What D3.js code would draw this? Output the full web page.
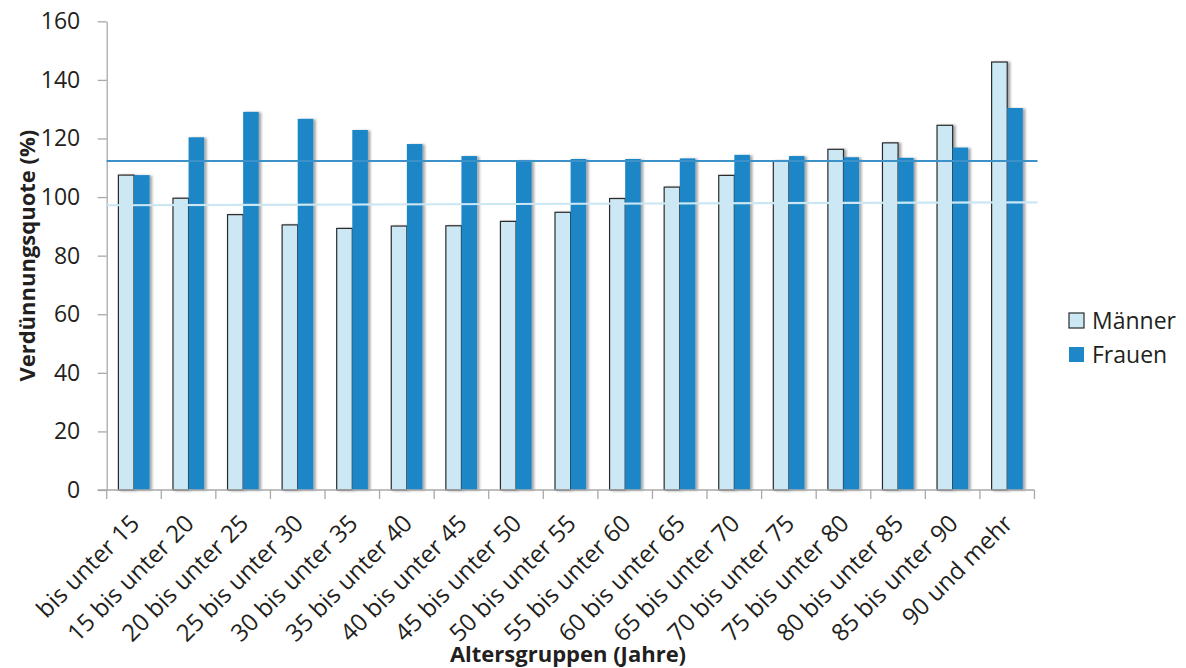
<!DOCTYPE html>
<html>
<head>
<meta charset="utf-8">
<script src="https://cdn.jsdelivr.net/npm/d3@7"></script>
<style>
  html, body { margin: 0; padding: 0; background: #fff; }
  svg { display: block; font-family: "Open Sans", sans-serif; }
</style>
</head>
<body>
<svg id="chart" width="1186" height="668"></svg>
<script>
// ---- data ----
const categories = ["bis unter 15", "15 bis unter 20", "20 bis unter 25", "25 bis unter 30",
  "30 bis unter 35", "35 bis unter 40", "40 bis unter 45", "45 bis unter 50", "50 bis unter 55",
  "55 bis unter 60", "60 bis unter 65", "65 bis unter 70", "70 bis unter 75", "75 bis unter 80",
  "80 bis unter 85", "85 bis unter 90", "90 und mehr"];
const maenner = [107.5, 99.6, 94.0, 90.5, 89.3, 90.1, 90.2, 91.7, 94.8, 99.5, 103.4, 107.4, 112.4, 116.3, 118.5, 124.5, 146.1];
const frauen  = [107.5, 120.4, 129.1, 126.7, 122.9, 118.1, 114.0, 112.5, 113.0, 113.0, 113.2, 114.4, 114.0, 113.6, 113.4, 116.9, 130.4];
const maennerLine = [97.2, 98.2];   // start / end value of reference line
const frauenLine  = [112.3, 112.3];
const yTicks = [0, 20, 40, 60, 80, 100, 120, 140, 160];
const seriesNames = ["Männer", "Frauen"];
const yTitle = "Verdünnungsquote (%)";
const xTitle = "Altersgruppen (Jahre)";

// ---- styles ----
const colM = "#cce8f4", colMStroke = "#2b2b2b";
const colF = "#1f86c7";
const colFLine = "#3d91c9", colMLine = "#cbe7f3";
const axisCol = "#a9a9a9", textCol = "#231f20";

const svg = d3.select("#chart");
const pLeft = 106.7, pRight = 1034.5, pTop = 21.3, pBottom = 490;

const x = d3.scaleBand().domain(categories).range([pLeft, pRight]).paddingInner(0).paddingOuter(0);
const barW = 15.6;
const xs = d3.scaleBand().domain(seriesNames).range([0, barW * 2]);
const y = d3.scaleLinear().domain([0, 160]).range([pBottom, pTop]);

const defs = svg.append("defs");
const f = defs.append("filter").attr("id", "shadow").attr("x", "-20%").attr("y", "-5%").attr("width", "160%").attr("height", "110%");
f.append("feDropShadow").attr("dx", 2.5).attr("dy", 0.5).attr("stdDeviation", 1.2)
  .attr("flood-color", "#000").attr("flood-opacity", 0.35);

// y axis
const yAxis = svg.append("g").attr("transform", `translate(${pLeft},0)`)
  .call(d3.axisLeft(y).tickValues(yTicks).tickSize(9).tickPadding(17.5).tickSizeOuter(0));
yAxis.select(".domain").attr("stroke", axisCol).attr("stroke-width", 1.3);
yAxis.selectAll(".tick line").attr("stroke", axisCol).attr("stroke-width", 1.3);
yAxis.selectAll(".tick text").attr("fill", textCol).attr("font-size", 23)
  .attr("font-family", '"Open Sans", sans-serif');

// bars
const groups = svg.append("g").selectAll("g").data(categories).join("g")
  .attr("transform", d => `translate(${x(d) + (x.bandwidth() - barW * 2) / 2},0)`);

groups.append("rect")
  .attr("x", xs("Männer"))
  .attr("y", (d, i) => y(maenner[i]))
  .attr("width", xs.bandwidth())
  .attr("height", (d, i) => y(0) - y(maenner[i]))
  .attr("fill", colM).attr("stroke", colMStroke).attr("stroke-width", 1.2)
  .attr("filter", "url(#shadow)");

groups.append("rect")
  .attr("x", xs("Frauen"))
  .attr("y", (d, i) => y(frauen[i]))
  .attr("width", xs.bandwidth())
  .attr("height", (d, i) => y(0) - y(frauen[i]))
  .attr("fill", colF)
  .attr("filter", "url(#shadow)");

// x axis
const xAxisG = svg.append("g");
xAxisG.append("line").attr("x1", pLeft - 9).attr("x2", pRight).attr("y1", y(0)).attr("y2", y(0))
  .attr("stroke", axisCol).attr("stroke-width", 1.3);
const bounds = categories.map(c => x(c)).concat([pRight]);
xAxisG.selectAll("line.tk").data(bounds).join("line").attr("class", "tk")
  .attr("x1", d => d).attr("x2", d => d).attr("y1", y(0)).attr("y2", y(0) + 9)
  .attr("stroke", axisCol).attr("stroke-width", 1.3);
xAxisG.selectAll("text").data(categories).join("text")
  .attr("transform", d => `translate(${x(d) + x.bandwidth() / 2 + 1},${y(0) + 29}) rotate(-45)`)
  .attr("text-anchor", "end").attr("dy", "0.35em")
  .attr("font-size", 24).attr("fill", textCol)
  .text(d => d);

// reference lines
const lineX = d3.scaleLinear().domain([0, 1]).range([pLeft, pRight + 3]);
const lineGen = d3.line().x((d, i) => lineX(i)).y(d => y(d));
svg.append("path").datum(maennerLine).attr("d", lineGen).attr("fill", "none")
  .attr("stroke", colMLine).attr("stroke-width", 2.2);
svg.append("path").datum(frauenLine).attr("d", lineGen).attr("fill", "none")
  .attr("stroke", colFLine).attr("stroke-width", 2);

// titles
svg.append("text").attr("transform", `translate(35,${(pTop + pBottom) / 2}) rotate(-90)`)
  .attr("text-anchor", "middle").attr("font-size", 22).attr("font-weight", "bold")
  .attr("fill", textCol).text(yTitle);
svg.append("text").attr("x", 568).attr("y", 662)
  .attr("text-anchor", "middle").attr("font-size", 22).attr("font-weight", "bold")
  .attr("fill", textCol).text(xTitle);

// legend
const legend = svg.append("g").attr("transform", "translate(1069,313)");
const li = legend.selectAll("g").data(seriesNames).join("g")
  .attr("transform", (d, i) => `translate(0,${i * 34})`);
li.append("rect").attr("width", 15).attr("height", 15)
  .attr("fill", (d, i) => i === 0 ? colM : colF)
  .attr("stroke", (d, i) => i === 0 ? colMStroke : "none").attr("stroke-width", 1.2);
li.append("text").attr("x", 23).attr("y", 15.5).attr("font-size", 23).attr("fill", textCol).text(d => d);
</script>
</body>
</html>
